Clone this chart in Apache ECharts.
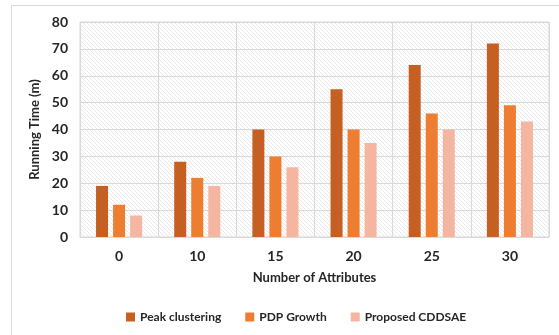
<!DOCTYPE html>
<html><head><meta charset="utf-8">
<script src="https://cdn.jsdelivr.net/npm/echarts@6/dist/echarts.min.js"></script>
<style>html,body{margin:0;padding:0;background:#fff}#c{width:559px;height:335px}</style>
</head><body><div id="c"></div>
<script>
var categories = ['0','10','15','20','25','30'];
var peakClustering = [19, 28, 40, 55, 64, 72];
var pdpGrowth = [12, 22, 30, 40, 46, 49];
var proposedCDDSAE = [8, 19, 26, 35, 40, 43];
var seriesNames = ['Peak clustering','PDP Growth','Proposed CDDSAE'];
var colors = ['#C55F22','#ED7D31','#F4B6A0'];

var cv = document.createElement('canvas');
cv.width = 4; cv.height = 4;
var ctx = cv.getContext('2d');
ctx.fillStyle = '#ffffff'; ctx.fillRect(0,0,4,4);
ctx.strokeStyle = '#e2e2e2'; ctx.lineWidth = 0.8;
ctx.beginPath();
ctx.moveTo(0,0); ctx.lineTo(4,4);
ctx.moveTo(-2,2); ctx.lineTo(2,6);
ctx.moveTo(2,-2); ctx.lineTo(6,2);
ctx.stroke();

var font = 'Lato, "Open Sans", sans-serif';
var chart = echarts.init(document.getElementById('c'));
chart.setOption({
  animation:false,
  backgroundColor:'#fff',
  graphic:[{type:'rect', shape:{x:11.5,y:5.5,width:600,height:400}, style:{fill:null, stroke:'#d9d9d9', lineWidth:1}, z:-10}],
  grid:{left:80, right:10, top:22, bottom:98, show:true, backgroundColor:{image:cv, repeat:'repeat'}, borderColor:'#d9d9d9', borderWidth:1},
  legend:{bottom:7, left:121, itemWidth:9, itemHeight:9, itemGap:24, icon:'rect',
    textStyle:{fontFamily:font, fontWeight:'bold', fontSize:12, color:'#262626'}, data:seriesNames},
  xAxis:{type:'category', data:categories, name:'Number of Attributes', nameLocation:'middle', nameGap:34,
    nameTextStyle:{fontFamily:font, fontWeight:'bold', fontSize:13, color:'#262626'},
    axisLine:{lineStyle:{color:'#d9d9d9'}}, axisTick:{show:false},
    splitLine:{show:true, lineStyle:{color:'#d9d9d9'}},
    axisLabel:{margin:12, fontFamily:font, fontWeight:'bold', fontSize:14, color:'#262626', interval:0}},
  yAxis:{type:'value', min:0, max:80, interval:10, name:'Running Time (m)', nameLocation:'middle', nameGap:33,
    nameTextStyle:{fontFamily:font, fontWeight:'bold', fontSize:13, color:'#262626'},
    axisLine:{show:false}, axisTick:{show:false},
    splitLine:{lineStyle:{color:'#d9d9d9'}},
    axisLabel:{margin:12, fontFamily:font, fontWeight:'bold', fontSize:14, color:'#262626'}},
  series:[
    {name:seriesNames[0], type:'bar', data:peakClustering, itemStyle:{color:colors[0]}, barWidth:12, barGap:'42%'},
    {name:seriesNames[1], type:'bar', data:pdpGrowth, itemStyle:{color:colors[1]}, barWidth:12, barGap:'42%'},
    {name:seriesNames[2], type:'bar', data:proposedCDDSAE, itemStyle:{color:colors[2]}, barWidth:12, barGap:'42%'}
  ]
});
</script></body></html>
